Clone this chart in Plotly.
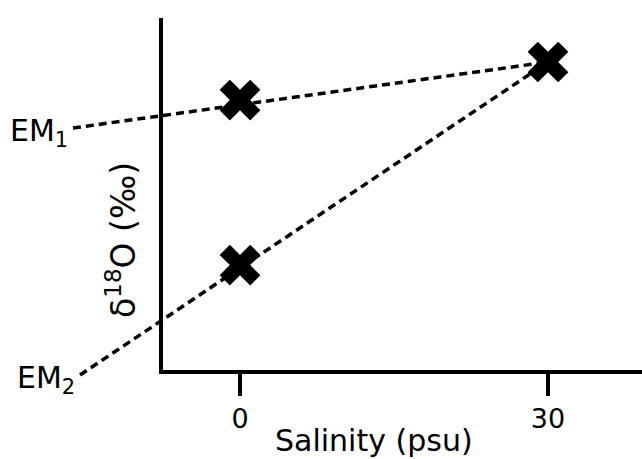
import plotly.graph_objects as go

# Data (arbitrary delta units)
sample_salinity = [0, 0, 30]
sample_d18o = [7.67, 2.98, 8.75]

em_names = ["EM<sub>1</sub>", "EM<sub>2</sub>"]
em_salinity = [-16.27, -15.58]
em_d18o = [6.875, -0.142]

seawater_salinity = 30
seawater_d18o = 8.75

tick_vals = [0, 30]
tick_text = ["0", "30"]

FONT = "DejaVu Sans"
W, H = 642, 459

fig = go.Figure()

# sample markers (on the visible axes)
fig.add_trace(go.Scatter(
    x=sample_salinity, y=sample_d18o, mode="markers",
    marker=dict(symbol="x", size=36, color="black", line=dict(width=0)),
    xaxis="x", yaxis="y", showlegend=False, cliponaxis=False))

# mixing lines from each end member to the seawater point (full-page overlay axes)
for s, d in zip(em_salinity, em_d18o):
    fig.add_trace(go.Scatter(
        x=[s, seawater_salinity], y=[d, seawater_d18o],
        mode="lines", line=dict(color="black", width=3.5, dash="8px,5px"),
        xaxis="x2", yaxis="y2", showlegend=False, hoverinfo="skip"))

# end-member labels
annotations = []
for name, s, d in zip(em_names, em_salinity, em_d18o):
    annotations.append(dict(
        x=s, y=d, xref="x2", yref="y2", text=name, showarrow=False,
        xanchor="right", yanchor="middle", xshift=-3, yshift=-4,
        font=dict(family=FONT, size=30, color="black")))

annotations.append(dict(
    x=374 / W, y=(H - 440) / H, xref="paper", yref="paper",
    text="Salinity (psu)", showarrow=False, xanchor="center", yanchor="middle",
    font=dict(family=FONT, size=30, color="black")))
annotations.append(dict(
    x=122 / W, y=(H - 240) / H, xref="paper", yref="paper",
    text="δ<sup>18</sup>O (‰)", showarrow=False, textangle=-90,
    xanchor="center", yanchor="middle",
    font=dict(family=FONT, size=33, color="black")))

x_left_px, y_top_px, y_bot_px = 163, 18, 370
x_dom0 = x_left_px / W
y_dom0 = (H - y_bot_px) / H
y_dom1 = (H - y_top_px) / H

px_per_x = (548 - 240) / 30.0
px_per_y = (y_bot_px - y_top_px) / 10.0

fig.update_layout(
    width=W, height=H, margin=dict(l=0, r=0, t=0, b=0),
    paper_bgcolor="white", plot_bgcolor="rgba(0,0,0,0)",
    annotations=annotations,
    xaxis=dict(domain=[x_dom0, 1], anchor="y",
               range=[(x_left_px - 240) / px_per_x, 30 + (W - 548) / px_per_x],
               showline=True, linecolor="black", linewidth=3.5,
               ticks="outside", ticklen=22, tickwidth=4, tickcolor="black",
               tickvals=tick_vals, ticktext=tick_text,
               tickfont=dict(family=FONT, size=27, color="black"),
               showgrid=False, zeroline=False, fixedrange=True),
    yaxis=dict(domain=[y_dom0, y_dom1], anchor="x", range=[0, 10],
               showline=True, linecolor="black", linewidth=3.5,
               showticklabels=False, ticks="", showgrid=False, zeroline=False),
    xaxis2=dict(domain=[0, 1], anchor="y2",
                range=[-240 / px_per_x, 30 + (W - 548) / px_per_x],
                visible=False),
    yaxis2=dict(domain=[0, 1], anchor="x2",
                range=[-(H - y_bot_px) / px_per_y, y_bot_px / px_per_y],
                visible=False),
)

fig.write_html("out.html")
